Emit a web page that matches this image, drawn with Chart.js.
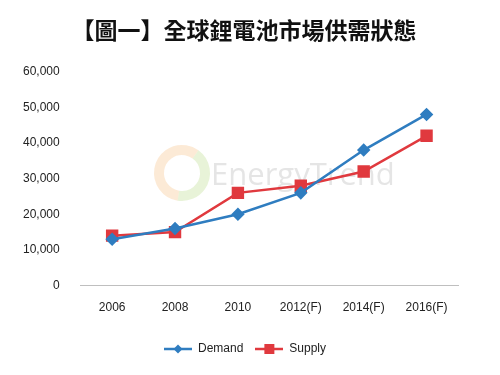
<!DOCTYPE html>
<html>
<head>
<meta charset="utf-8">
<script src="https://cdn.jsdelivr.net/npm/chart.js@4"></script>
<style>
  html, body { margin: 0; padding: 0; background: #fff; }
</style>
</head>
<body>
<canvas id="myChart" width="500" height="375"></canvas>
<script>
const years = ["2006", "2008", "2010", "2012(F)", "2014(F)", "2016(F)"];
const demand = [13000, 16000, 20000, 26000, 38000, 48000];
const supply = [14000, 15000, 26000, 28000, 32000, 42000];

const blue = "#2f7dc0";
const red = "#e0393e";

// small legend icons: line with marker in the middle
function legendIcon(color, shape) {
    const c = document.createElement("canvas");
    c.width = 28; c.height = 12;
    const g = c.getContext("2d");
    g.strokeStyle = color;
    g.lineWidth = 2.5;
    g.beginPath(); g.moveTo(0, 6); g.lineTo(28, 6); g.stroke();
    g.fillStyle = color;
    if (shape === "diamond") {
        g.beginPath(); g.moveTo(14, 1.5); g.lineTo(18.5, 6); g.lineTo(14, 10.5); g.lineTo(9.5, 6); g.closePath(); g.fill();
    } else {
        g.fillRect(9, 1, 10, 10);
    }
    return c;
}

// faint watermark behind the lines
const watermark = {
    id: "watermark",
    beforeDatasetsDraw(chart) {
        const ctx = chart.ctx;
        ctx.save();
        ctx.globalAlpha = 0.3;
        ctx.lineWidth = 10;
        ctx.strokeStyle = "#f6b878";
        ctx.beginPath(); ctx.arc(182, 173, 23, Math.PI * 0.55, Math.PI * 1.7); ctx.stroke();
        ctx.strokeStyle = "#b3d67f";
        ctx.beginPath(); ctx.arc(182, 173, 23, Math.PI * 1.7, Math.PI * 2.55); ctx.stroke();
        ctx.fillStyle = "#a8a8a8";
        ctx.font = "31px 'Open Sans', sans-serif";
        ctx.textBaseline = "middle";
        ctx.fillText("EnergyTrend", 211, 176);
        ctx.restore();
    }
};

// centre title and legend on the page rather than on the plot
const recenter = {
    id: "recenter",
    beforeDraw(chart) {
        chart.titleBlock.left = 0;
        chart.titleBlock.right = 488;
        chart.legend.left = 0;
        chart.legend.right = 490;
    }
};

const ctx = document.getElementById("myChart").getContext("2d");

new Chart(ctx, {
    type: "line",
    data: {
        labels: years,
        datasets: [
            {
                label: "Demand",
                data: demand,
                borderColor: blue,
                backgroundColor: blue,
                borderWidth: 2.5,
                pointStyle: "rectRot",
                pointRadius: 5,
                tension: 0,
            },
            {
                label: "Supply",
                data: supply,
                borderColor: red,
                backgroundColor: red,
                borderWidth: 2.5,
                pointStyle: "rect",
                pointRadius: 7,
                tension: 0,
            },
        ],
    },
    options: {
        responsive: false,
        animation: false,
        layout: { padding: { left: 10, right: 42, top: 12, bottom: 10 } },
        plugins: {
            title: {
                display: true,
                text: "【圖一】全球鋰電池市場供需狀態",
                font: { family: "'Noto Sans CJK TC', sans-serif", size: 23, weight: "bold" },
                color: "#111",
                padding: { top: 4, bottom: 28 },
            },
            legend: {
                position: "bottom",
                labels: {
                    usePointStyle: true,
                    pointStyleWidth: 28,
                    boxHeight: 12,
                    color: "#222",
                    font: { family: "'Liberation Sans', sans-serif", size: 12 },
                    padding: 12,
                    generateLabels(chart) {
                        return chart.data.datasets.map((ds, i) => ({
                            text: ds.label,
                            fontColor: "#222",
                            pointStyle: legendIcon(ds.borderColor, i === 0 ? "diamond" : "square"),
                            datasetIndex: i,
                            lineWidth: 0,
                        }));
                    },
                },
            },
            tooltip: { enabled: false },
        },
        scales: {
            x: {
                offset: true,
                grid: { display: false },
                border: { color: "#bfbfbf", width: 1 },
                ticks: {
                    color: "#222",
                    font: { family: "'Liberation Sans', sans-serif", size: 12 },
                    padding: 7,
                },
                afterFit(scale) { scale.height += 9; },
            },
            y: {
                min: 0,
                max: 60000,
                grid: { display: false },
                border: { display: false },
                ticks: {
                    stepSize: 10000,
                    color: "#222",
                    font: { family: "'Liberation Sans', sans-serif", size: 12 },
                    padding: 13,
                    callback: v => v.toLocaleString("en-US"),
                },
            },
        },
    },
    plugins: [watermark, recenter],
});
</script>
</body>
</html>
